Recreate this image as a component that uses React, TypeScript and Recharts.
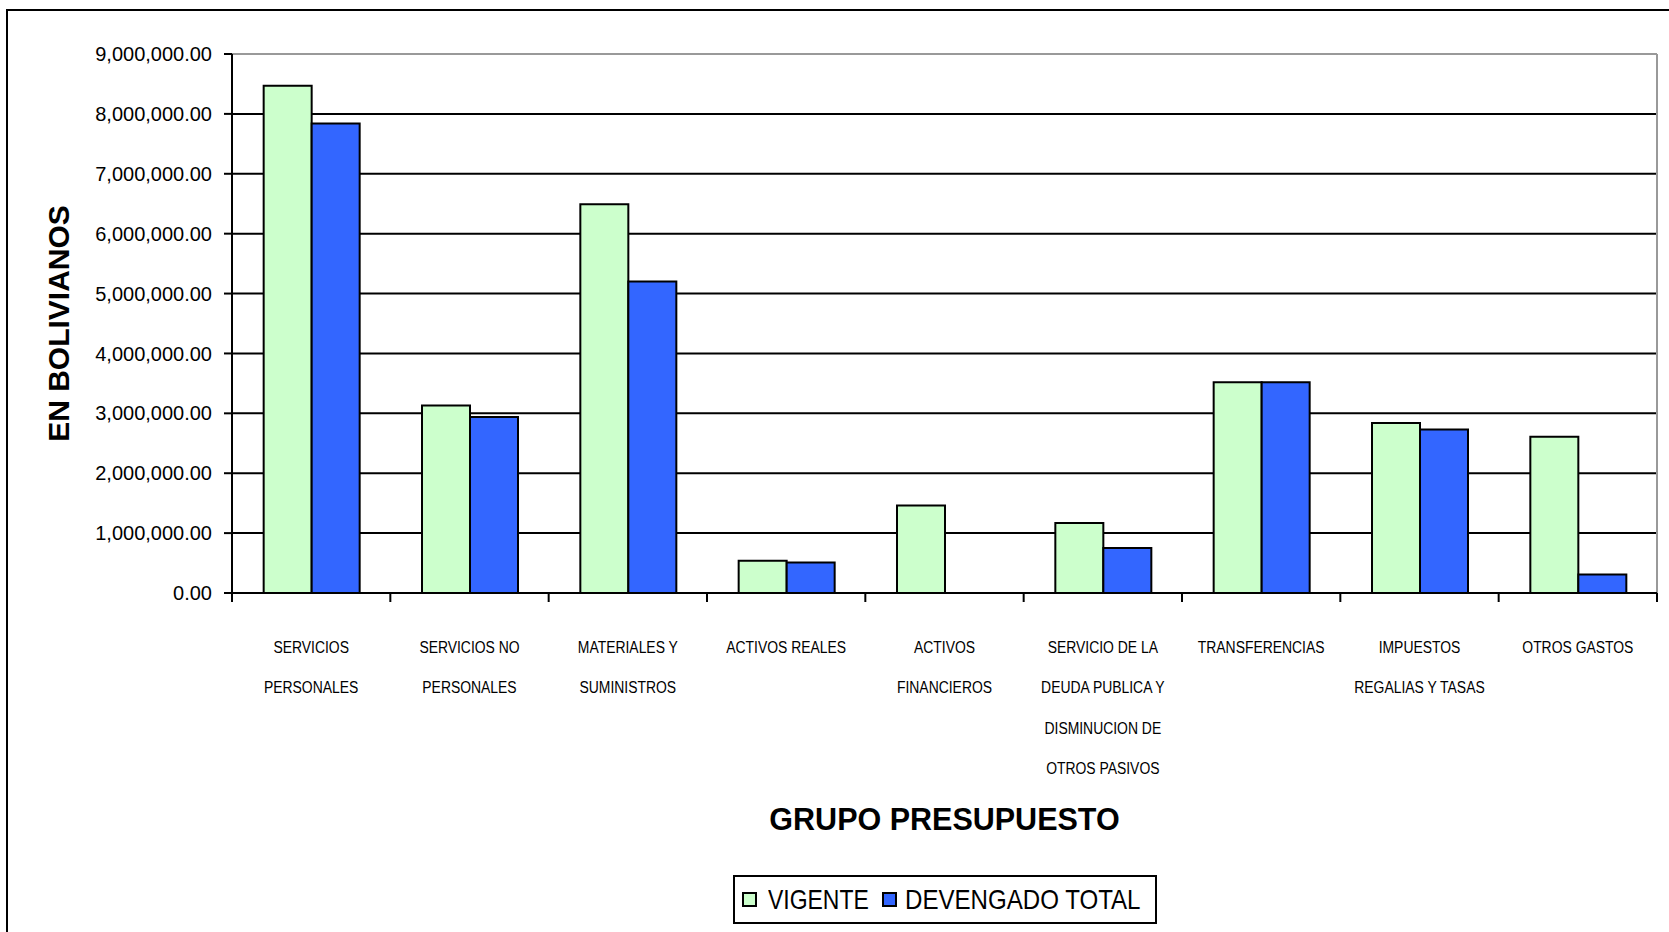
import { BarChart, Bar, XAxis, YAxis, CartesianGrid, Legend, Label } from "recharts"

const categories = [
  "SERVICIOS PERSONALES",
  "SERVICIOS NO PERSONALES",
  "MATERIALES Y SUMINISTROS",
  "ACTIVOS REALES",
  "ACTIVOS FINANCIEROS",
  "SERVICIO DE LA DEUDA PUBLICA Y DISMINUCION DE OTROS PASIVOS",
  "TRANSFERENCIAS",
  "IMPUESTOS REGALIAS Y TASAS",
  "OTROS GASTOS",
]

const tickLines = [
  ["SERVICIOS", "PERSONALES"],
  ["SERVICIOS NO", "PERSONALES"],
  ["MATERIALES Y", "SUMINISTROS"],
  ["ACTIVOS REALES"],
  ["ACTIVOS", "FINANCIEROS"],
  ["SERVICIO DE LA", "DEUDA PUBLICA Y", "DISMINUCION DE", "OTROS PASIVOS"],
  ["TRANSFERENCIAS"],
  ["IMPUESTOS", "REGALIAS Y TASAS"],
  ["OTROS GASTOS"],
]

const seriesNames = ["VIGENTE", "DEVENGADO TOTAL"]
const vigente = [8470000, 3130000, 6490000, 540000, 1460000, 1170000, 3520000, 2840000, 2610000]
const devengado = [7840000, 2940000, 5200000, 510000, 0, 750000, 3520000, 2730000, 310000]

const yTicks = [0, 1000000, 2000000, 3000000, 4000000, 5000000, 6000000, 7000000, 8000000, 9000000]

const data = categories.map((name, i) => ({
  name,
  vigente: vigente[i],
  devengado: devengado[i],
}))

const SANS = "'Liberation Sans', Arial, sans-serif"
const SQUEEZE = 0.87

const fmt = (v: number) =>
  v.toLocaleString("en-US", { minimumFractionDigits: 2, maximumFractionDigits: 2 })

function CategoryTick(props: any) {
  const { x, y, payload, index } = props
  const half = payload?.offset ?? 79
  const lines = tickLines[index] || [payload.value]
  return (
    <g>
      <line x1={x - half} y1={y} x2={x - half} y2={y + 9} stroke="#000" strokeWidth={2} />
      {index === categories.length - 1 && (
        <line x1={x + half} y1={y} x2={x + half} y2={y + 9} stroke="#000" strokeWidth={2} />
      )}
      <text
        x={x}
        y={y + 60}
        textAnchor="middle"
        fontFamily={SANS}
        fontSize={16}
        fill="#000"
        transform={`matrix(${SQUEEZE} 0 0 1 ${x * (1 - SQUEEZE)} 0)`}
      >
        {lines.map((l: string, i: number) => (
          <tspan key={i} x={x} dy={i === 0 ? 0 : 40.5}>
            {l}
          </tspan>
        ))}
      </text>
    </g>
  )
}

const legendText = [
  { width: 102, scale: 0.82, gap: 11 },
  { width: 240, scale: 0.86, gap: 8 },
]

function LegendBox(props: any) {
  const items = [...(props.payload || [])].sort(
    (a: any, b: any) => seriesNames.indexOf(a.value) - seriesNames.indexOf(b.value)
  )
  return (
    <div
      style={{
        width: 424,
        height: 49,
        boxSizing: "border-box",
        border: "2px solid #000",
        background: "#fff",
        display: "flex",
        alignItems: "center",
        paddingLeft: 7,
        fontFamily: SANS,
        fontSize: 28,
        color: "#000",
      }}
    >
      {items.map((it: any, i: number) => (
        <div key={i} style={{ display: "flex", alignItems: "center", marginRight: 12 }}>
          <span
            style={{
              width: 15,
              height: 15,
              boxSizing: "border-box",
              border: "2px solid #000",
              background: it.color,
              marginRight: legendText[i]?.gap ?? 8,
            }}
          />
          <span style={{ width: legendText[i]?.width ?? 100, whiteSpace: "nowrap", display: "inline-block" }}>
            <span
              style={{
                display: "inline-block",
                transform: `scaleX(${legendText[i]?.scale ?? 0.84})`,
                transformOrigin: "left center",
              }}
            >
              {it.value}
            </span>
          </span>
        </div>
      ))}
    </div>
  )
}

export default function App() {
  return (
    <div
      style={{
        position: "absolute",
        left: 0,
        top: 0,
        width: 1669,
        height: 932,
        overflow: "hidden",
        background: "#fff",
      }}
    >
      <div
        style={{
          position: "absolute",
          left: 6,
          top: 9,
          width: 1700,
          height: 1000,
          border: "2px solid #000",
        }}
      />
      <div style={{ position: "absolute", left: 0, top: 0 }}>
        <BarChart
          width={1669}
          height={932}
          data={data}
          margin={{ top: 54, right: 12, left: 0, bottom: 0 }}
          barCategoryGap="20%"
          barGap={0}
        >
          <CartesianGrid vertical={false} stroke="#000" strokeWidth={2} />
          <CartesianGrid
            stroke="#999"
            strokeWidth={2}
            horizontalCoordinatesGenerator={({ offset }: any) => [offset.top]}
            verticalCoordinatesGenerator={({ offset }: any) => [offset.left + offset.width]}
          />
          <XAxis
            dataKey="name"
            height={339}
            interval={0}
            tickSize={0}
            tickMargin={0}
            tickLine={false}
            axisLine={{ stroke: "#000", strokeWidth: 2 }}
            tick={<CategoryTick />}
          >
            <Label
              content={({ viewBox }: any) => (
                <text
                  x={viewBox.x + viewBox.width / 2}
                  y={viewBox.y + 237}
                  textAnchor="middle"
                  fontFamily={SANS}
                  fontWeight="bold"
                  fontSize={30.5}
                  fill="#000"
                >
                  GRUPO PRESUPUESTO
                </text>
              )}
            />
          </XAxis>
          <YAxis
            width={232}
            domain={[0, 9000000]}
            ticks={yTicks}
            interval={0}
            tickFormatter={fmt}
            tickSize={8}
            tickMargin={12}
            tickLine={{ stroke: "#000", strokeWidth: 2 }}
            axisLine={{ stroke: "#000", strokeWidth: 2 }}
            tick={{ fill: "#000", fontSize: 20, fontFamily: SANS }}
          >
            <Label
              content={({ viewBox }: any) => {
                const cx = viewBox.x + 58
                const cy = viewBox.y + viewBox.height / 2
                return (
                  <text
                    x={cx}
                    y={cy}
                    transform={`rotate(-90 ${cx} ${cy})`}
                    textAnchor="middle"
                    dominantBaseline="central"
                    fontFamily={SANS}
                    fontWeight="bold"
                    fontSize={30}
                    fill="#000"
                  >
                    EN BOLIVIANOS
                  </text>
                )
              }}
            />
          </YAxis>
          <Legend
            layout="horizontal"
            verticalAlign="middle"
            align="center"
            content={<LegendBox />}
            wrapperStyle={{ top: 875, left: 733, width: 424, height: 49 }}
          />
          <Bar
            dataKey="vigente"
            name={seriesNames[0]}
            fill="#CCFFCC"
            stroke="#000"
            strokeWidth={2}
            isAnimationActive={false}
          />
          <Bar
            dataKey="devengado"
            name={seriesNames[1]}
            fill="#3366FF"
            stroke="#000"
            strokeWidth={2}
            isAnimationActive={false}
          />
        </BarChart>
      </div>
    </div>
  )
}
